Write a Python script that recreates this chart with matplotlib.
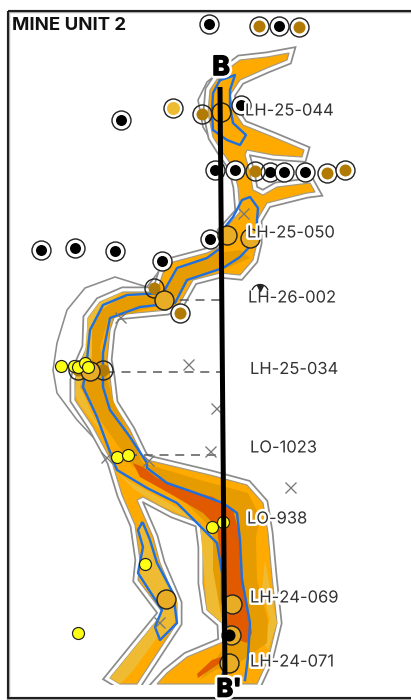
import matplotlib
matplotlib.use("Agg")
import matplotlib.pyplot as plt
from matplotlib.patches import Polygon, Rectangle, Arc
import matplotlib.patheffects as pe

TITLE = "MINE UNIT 2"
body = [(289,53),(267,57),(240,60),(220,75),(210,90),(208,113),(213,137),(223,153),(233,167),(238,187),(240,212),(222,232),(220,247),(207,253),(173,262),(163,273),(157,292),(123,292),(100,302),(88,318),(87,347),(80,363),(75,380),(75,400),(93,427),(112,462),(122,495),(135,525),(140,560),(138,580),(163,613),(110,678),(120,684),(137,684),(177,623),(177,603),(160,563),(153,537),(137,500),(143,497),(173,513),(200,523),(203,547),(203,583),(207,610),(222,623),(223,642),(187,657),(167,673),(157,684),(257,684),(268,660),(277,623),(272,577),(268,533),(263,503),(247,485),(210,475),(147,460),(143,457),(130,430),(113,403),(110,377),(107,360),(110,330),(115,315),(167,310),(180,303),(193,280),(220,273),(240,275),(253,260),(257,243),(257,220),(267,203),(307,193),(315,192),(310,183),(277,187),(263,195),(253,190),(250,173),(245,155),(247,150),(273,155),(302,157),(304,150),(273,137),(243,125),(233,110),(230,95),(240,80),(267,68),(287,60)]
gold_a = [(88,318),(100,302),(123,292),(112,300),(97,322),(95,345),(90,362),(80,385),(92,415),(112,445),(100,430),(80,405),(75,395),(76,378),(85,352)]
gold_b = [(138,520),(152,540),(157,565),(177,600),(176,620),(162,640),(155,627),(162,610),(140,580),(143,547)]
gold_c = [(112,468),(135,490),(160,505),(200,523),(203,560),(207,610),(222,623),(222,600),(215,560),(212,535),(190,515),(160,498),(130,482)]
gold_d = [(110,678),(163,613),(170,620),(132,672),(120,684)]
gold_e = [(265,560),(272,600),(277,623),(268,650),(262,640),(270,620),(262,590)]
dark = [(217,253),(177,270),(163,295),(123,297),(100,310),(92,327),(92,363),(80,387),(100,420),(133,467),(183,500),(213,530),(213,570),(222,620),(226,645),(200,680),(215,670),(240,662),(267,643),(268,620),(257,580),(256,537),(260,517),(248,493),(200,480),(143,463),(113,400),(103,363),(100,347),(108,320),(167,303),(180,293),(190,278),(227,268),(250,258),(240,250)]
red = [(133,463),(140,477),(167,492),(203,513),(217,527),(220,557),(223,607),(230,637),(247,643),(252,633),(248,607),(242,573),(240,537),(233,510),(213,497),(187,490),(157,478),(143,467)]
red_tail = [(198,678),(220,663),(224,656),(212,660),(197,674)]
blue_top = [(220,80),(213,93),(212,113),(213,130),(227,140),(240,145),(246,135),(233,123),(230,107),(230,90),(235,75),(227,78),(220,80)]
blue_right = [(225,227),(233,217),(242,200),(250,197),(258,208),(257,220),(257,233),(253,243),(240,257),(223,268),(187,280),(175,303),(140,307),(110,318),(103,353),(103,387),(110,410),(130,437),(147,463),(147,468),(167,483),(193,492),(223,503),(237,513),(240,540),(242,580),(250,623),(248,657),(245,680)]
blue_left = [(218,250),(207,258),(177,268),(163,293),(127,295),(103,305),(90,330),(87,360),(83,387),(97,417),(113,460),(117,470),(147,488),(177,503),(197,523),(217,543),(222,573),(222,600),(227,625)]
blue_low = [(220,680),(230,657)]
blue_branch = [(142,523),(138,530),(143,547),(138,573),(162,610),(155,627),(160,640),(177,623),(173,593),(157,563),(150,540),(143,523),(142,523)]
grey_bulge = [(160,270),(147,287),(115,277),(85,288),(67,310),(57,343),(53,370),(57,393),(77,420),(107,452)]
grey_top = [(222,70),(207,82),(198,100),(203,127),(217,150),(228,160)]

black_x = [209,279,121,241,215,235,270,284,305,210,41,75,115,162]
black_y = [24,26,120,105,170,170,172,172,172,239,250,248,251,261]
brown_x = [259,299,327,345,180]
brown_y = [26,27,173,170,313]
gold_x = [173]
gold_y = [108]
brown_open_x = [202,255,154,78,103]
brown_open_y = [114,171,288,370,370]
gold_open_x = [227,250,164,90,166,232,229]
gold_open_y = [235,238,300,371,599,604,663]
empty_x = [221]
empty_y = [112]
yellow_x = [61,74,78,85,88,117,128,212,223,145,78]
yellow_y = [366,366,367,363,367,457,455,527,522,564,633]
cross_x = [243,120,188,216,210,106,148,290,159]
cross_y = [213,317,364,408,451,457,460,487,622]
dash_x0 = [164,90,128]
dash_x1 = [220,220,222]
dash_y = [300,372,455]
section_x = [220,225]
section_y = [87,680]
labels = ["LH-25-044","LH-25-050","LH-26-002","LH-25-034","LO-1023","LO-938","LH-24-069","LH-24-071"]
label_x = [245,247,248,250,250,247,250,250]
label_y = [111,233,298,369.5,448,519,598,662]

PX = 0.72
fig = plt.figure(figsize=(4.11,7.0),dpi=100)
ax = fig.add_axes([0,0,1,1])
ax.set_xlim(0,411); ax.set_ylim(700,0); ax.axis("off")

GREY="#8c8c8c"
ax.plot(*zip(*grey_bulge),color=GREY,lw=1.6*PX,zorder=1)
ax.plot(*zip(*grey_top),color=GREY,lw=1.6*PX,zorder=1)
ax.add_patch(Polygon(body,closed=True,facecolor="none",edgecolor=GREY,lw=11*PX,joinstyle="miter",zorder=1.1))
ax.add_patch(Polygon(body,closed=True,facecolor="none",edgecolor="white",lw=7.5*PX,joinstyle="miter",zorder=1.2))
ax.add_patch(Polygon(body,closed=True,facecolor="#ffaa00",edgecolor="#a59a80",lw=1.2*PX,zorder=1.3))
for g in (gold_a,gold_b,gold_c,gold_d,gold_e):
    ax.add_patch(Polygon(g,closed=True,facecolor="#eebb33",edgecolor="none",zorder=1.4))
ax.add_patch(Polygon(dark,closed=True,facecolor="#e69c00",edgecolor="none",zorder=1.5))
ax.add_patch(Polygon(red,closed=True,facecolor="#e25a00",edgecolor="none",zorder=1.6))
ax.add_patch(Polygon(red_tail,closed=True,facecolor="#e25a00",edgecolor="none",zorder=1.6))
for b in (blue_top,blue_right,blue_left,blue_low,blue_branch):
    ax.plot(*zip(*b),color="#1f6fe0",lw=2.4*PX,zorder=2)

ax.add_patch(Rectangle((0,684.5),411,16,facecolor="white",edgecolor="none",zorder=2.5))

for x0,x1,y in zip(dash_x0,dash_x1,dash_y):
    ax.plot([x0,x1],[y,y],color="#555555",lw=1.5*PX,dashes=(6,4.5),zorder=3)
ax.plot(cross_x,cross_y,ls="none",marker="x",ms=11*PX,mew=1.3*PX,color="#777777",zorder=3)

RING=19*PX
ax.plot(black_x,black_y,ls="none",marker="o",ms=RING,mfc="white",mec="#222222",mew=1.4*PX,zorder=4)
ax.plot(black_x,black_y,ls="none",marker="o",ms=11*PX,mfc="black",mec="none",zorder=4.1)
ax.plot(brown_x,brown_y,ls="none",marker="o",ms=RING,mfc="white",mec="#222222",mew=1.4*PX,zorder=4)
ax.plot(brown_x,brown_y,ls="none",marker="o",ms=12*PX,mfc="#b07a05",mec="none",zorder=4.1)
ax.plot(gold_x,gold_y,ls="none",marker="o",ms=RING,mfc="white",mec="#222222",mew=1.4*PX,zorder=4)
ax.plot(gold_x,gold_y,ls="none",marker="o",ms=13*PX,mfc="#efbb30",mec="none",zorder=4.1)
ax.plot(brown_open_x,brown_open_y,ls="none",marker="o",ms=12*PX,mfc="#b07a05",mec="none",zorder=4.1)
ax.plot(brown_open_x,brown_open_y,ls="none",marker="o",ms=RING,mfc="none",mec="#222222",mew=1.4*PX,zorder=4.2)
ax.plot(gold_open_x,gold_open_y,ls="none",marker="o",ms=RING,mfc="#e9ac25",mec="#222222",mew=1.4*PX,zorder=4.2)
ax.plot(empty_x,empty_y,ls="none",marker="o",ms=RING,mfc="none",mec="#222222",mew=1.4*PX,zorder=4.2)
ax.plot(yellow_x,yellow_y,ls="none",marker="o",ms=12*PX,mfc="#ffff14",mec="#222222",mew=1.2*PX,zorder=4.3)
ax.plot([231],[635],ls="none",marker="o",ms=RING,mfc="#e9ac25",mec="#222222",mew=1.4*PX,zorder=4.2)
ax.plot([229],[635],ls="none",marker="o",ms=12*PX,mfc="black",mec="none",zorder=4.25)

ax.plot(section_x,section_y,color="black",lw=5*PX,solid_capstyle="butt",zorder=5)

halo=[pe.withStroke(linewidth=3.5,foreground="white")]
for s,x,y in zip(labels,label_x,label_y):
    ax.text(x,y,s,fontsize=11.9,family="Inter",color="#333333",ha="left",va="center",zorder=6,path_effects=halo)
ax.add_patch(Arc((260,293),17,17,theta1=200,theta2=340,color="#222222",lw=1.3*PX,zorder=6.5))
ax.plot([260],[288],ls="none",marker="v",ms=6*PX,color="#222222",zorder=6.5)

bhalo=[pe.Stroke(linewidth=5,foreground="white"),pe.Stroke(linewidth=1.2,foreground="black"),pe.Normal()]
ax.text(221,68,"B",fontsize=19,fontweight="bold",family="Inter",ha="center",va="center",color="black",zorder=7,path_effects=bhalo)
ax.text(229,690,"B'",fontsize=18,fontweight="bold",family="Inter",ha="center",va="center",color="black",zorder=7,path_effects=bhalo)
ax.text(12,25,TITLE,fontsize=13.4,fontweight="bold",family="Inter",ha="left",va="center",color="#111111",zorder=7)

ax.add_patch(Rectangle((7.5,10.5),430,687.5,facecolor="none",edgecolor="#aaaaaa",lw=3.4*PX,zorder=2.8))
ax.add_patch(Rectangle((7.5,10.5),430,687.5,facecolor="none",edgecolor="#111111",lw=1.8*PX,zorder=2.9))

fig.savefig("out.png",dpi=100)
